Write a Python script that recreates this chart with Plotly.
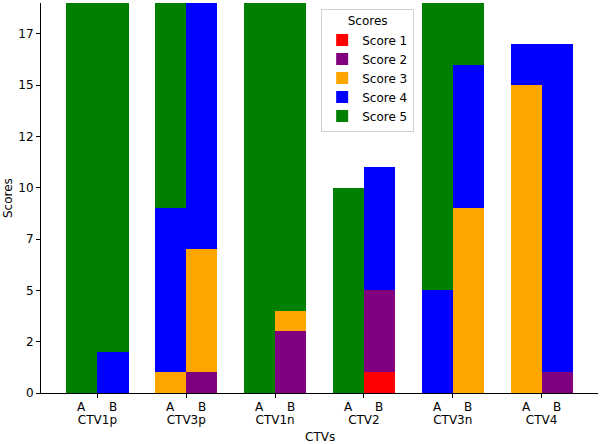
import plotly.graph_objects as go

ctvs = ["CTV1p", "CTV3p", "CTV1n", "CTV2", "CTV3n", "CTV4"]
score_names = ["Score 1", "Score 2", "Score 3", "Score 4", "Score 5"]
colors = ["#ff0000", "#800080", "#ffa500", "#0000ff", "#008000"]

# counts per score, per CTV, for observer A and observer B
score1_A = [0, 0, 0, 0, 0, 0]
score1_B = [0, 0, 0, 1, 0, 0]
score2_A = [0, 0, 0, 0, 0, 0]
score2_B = [0, 1, 3, 4, 0, 1]
score3_A = [0, 1, 0, 0, 0, 15]
score3_B = [0, 6, 1, 0, 9, 0]
score4_A = [0, 8, 0, 0, 5, 2]
score4_B = [2, 12, 0, 6, 7, 16]
score5_A = [19, 10, 19, 10, 14, 0]
score5_B = [17, 0, 15, 0, 3, 0]

A_vals = [score1_A, score2_A, score3_A, score4_A, score5_A]
B_vals = [score1_B, score2_B, score3_B, score4_B, score5_B]

ytick_vals = [0, 2.5, 5, 7.5, 10, 12.5, 15, 17.5]
ytick_text = ["0", "2", "5", "7", "10", "12", "15", "17"]

bw = 0.35
idx = list(range(len(ctvs)))
xA = [i - bw / 2 for i in idx]
xB = [i + bw / 2 for i in idx]

fig = go.Figure()
for name, col, a, b in zip(score_names, colors, A_vals, B_vals):
    fig.add_trace(go.Bar(
        x=xA + xB, y=a + b, name=name, width=bw,
        marker=dict(color=col, line=dict(width=0)),
    ))

annotations = []
for i in idx:
    for xx, lab in ((xA[i], "A"), (xB[i], "B")):
        annotations.append(dict(x=xx, y=0, xref="x", yref="paper", text=lab,
                                showarrow=False, yanchor="top", yshift=-5,
                                font=dict(size=12, color="black")))
annotations.append(dict(x=0.5, y=0, xref="paper", yref="paper", text="CTVs",
                        showarrow=False, yanchor="middle", yshift=-44,
                        font=dict(size=12, color="black")))
annotations.append(dict(x=0, y=0.5, xref="paper", yref="paper", text="Scores",
                        showarrow=False, xanchor="center", xshift=-33,
                        textangle=-90, font=dict(size=12, color="black")))

fig.update_layout(
    width=600, height=444,
    margin=dict(l=41, r=2, t=3, b=51),
    barmode="stack", bargap=0,
    plot_bgcolor="white", paper_bgcolor="white",
    font=dict(family="DejaVu Sans", size=12, color="black"),
    showlegend=True,
    legend=dict(
        title=dict(text="Scores", side="top center", font=dict(size=12)),
        x=0.503, y=0.985, xanchor="left", yanchor="top",
        bgcolor="white", bordercolor="#d0d0d0", borderwidth=1,
        traceorder="normal", font=dict(size=12),
    ),
    annotations=annotations,
    xaxis=dict(
        range=[-0.635, 5.635], tickvals=idx, ticktext=ctvs,
        showline=True, linecolor="black", linewidth=1,
        ticks="outside", ticklen=4, tickcolor="black",
        ticklabelstandoff=12, showgrid=False, zeroline=False,
        automargin=False,
    ),
    yaxis=dict(
        range=[0, 19], tickvals=ytick_vals, ticktext=ytick_text,
        showline=True, linecolor="black", linewidth=1,
        ticks="outside", ticklen=4, tickcolor="black",
        showgrid=False, zeroline=False, automargin=False,
    ),
)

fig.write_html("out.html", config={"displayModeBar": False},
               post_script="document.body.style.margin='0';")
